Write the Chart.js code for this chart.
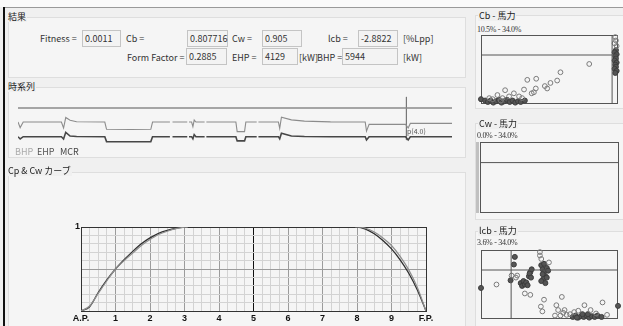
<!DOCTYPE html>
<html><head><meta charset="utf-8">
<script src="https://cdn.jsdelivr.net/npm/chart.js@4.4.0/dist/chart.umd.min.js"></script>
<style>
html,body{margin:0;padding:0;}
body{width:623px;height:326px;overflow:hidden;background:#f0f0f0;position:relative;font-family:"Noto Sans CJK JP","Liberation Sans",sans-serif;font-size:9px;color:#333;}
.grp{position:absolute;border:1px solid #dedede;background:#f5f5f5;box-sizing:border-box;}
.ttl{position:absolute;font-size:9px;line-height:10px;background:#f0f0f0;padding:0 1px;color:#222;white-space:nowrap;}
.lbl{position:absolute;font-size:9px;line-height:11px;white-space:nowrap;color:#333;}
.box{position:absolute;border:1px solid #c4c4c4;background:#f3f3f3;font-size:9px;line-height:15px;padding-left:2px;box-sizing:border-box;height:17px;white-space:nowrap;color:#333;}
.rng{position:absolute;font-family:"Liberation Serif",serif;font-size:8px;line-height:8px;white-space:nowrap;color:#333;letter-spacing:-0.3px;}
canvas{position:absolute;}
</style></head>
<body>
<div style="position:absolute;left:0;top:0;width:623px;height:7px;background:#fafafa"></div>
<div style="position:absolute;left:4px;top:7px;width:619px;height:1px;background:#9a9a9a"></div>
<div style="position:absolute;left:3px;top:7px;width:2px;height:319px;background:#111"></div>

<!-- 結果 -->
<div class="grp" style="left:8px;top:17px;width:458px;height:61px"></div>
<div class="ttl" style="left:7px;top:12px">結果</div>
<div class="lbl" style="left:40px;top:33px">Fitness =</div>
<div class="box" style="left:82px;top:30px;width:39px">0.0011</div>
<div class="lbl" style="left:126px;top:33px">Cb =</div>
<div class="box" style="left:187px;top:30px;width:41px">0.807716</div>
<div class="lbl" style="left:232px;top:33px">Cw =</div>
<div class="box" style="left:262px;top:30px;width:40px">0.905</div>
<div class="lbl" style="left:328px;top:33px">lcb =</div>
<div class="box" style="left:358px;top:30px;width:40px">-2.8822</div>
<div class="lbl" style="left:403px;top:33px">[%Lpp]</div>
<div class="lbl" style="left:127px;top:52px">Form Factor =</div>
<div class="box" style="left:186px;top:48px;width:41px">0.2885</div>
<div class="lbl" style="left:232px;top:52px">EHP =</div>
<div class="box" style="left:262px;top:48px;width:36px">4129</div>
<div class="lbl" style="left:299px;top:52px">[kW]</div>
<div class="lbl" style="left:317px;top:52px">BHP =</div>
<div class="box" style="left:342px;top:48px;width:56px">5944</div>
<div class="lbl" style="left:403px;top:52px">[kW]</div>

<!-- 時系列 -->
<div class="grp" style="left:8px;top:87px;width:458px;height:71px"></div>
<div class="ttl" style="left:7px;top:82px">時系列</div>
<canvas id="ts" width="434" height="56" style="left:18px;top:94px"></canvas>
<div class="lbl" style="left:407px;top:127px;font-size:7px;line-height:8px;color:#555">p(4.0)</div>
<div class="lbl" style="left:15px;top:146px;color:#aaa">BHP</div>
<div class="lbl" style="left:37px;top:146px;color:#555">EHP</div>
<div class="lbl" style="left:60px;top:146px;color:#444">MCR</div>

<!-- Cp & Cw -->
<div class="grp" style="left:8px;top:172px;width:458px;height:160px"></div>
<div class="ttl" style="left:7px;top:166px">Cp &amp; Cw カーブ</div>
<canvas id="cp" width="430" height="111" style="left:8px;top:215px"></canvas>

<!-- right panels -->
<div class="grp" style="left:475px;top:15px;width:150px;height:94px"></div>
<div class="ttl" style="left:478px;top:11px">Cb - 馬力</div>
<div class="rng" style="left:477px;top:26px">10.5% - 34.0%</div>
<canvas id="cb" width="147" height="79" style="left:476px;top:30px"></canvas>

<div class="grp" style="left:475px;top:123px;width:150px;height:97px"></div>
<div class="ttl" style="left:478px;top:119px">Cw - 馬力</div>
<div class="rng" style="left:477px;top:132px">0.0% - 34.0%</div>
<div style="position:absolute;left:476px;top:142px;width:3px;height:71px;background:#c0c0c0"></div>
<canvas id="cw" width="147" height="79" style="left:476px;top:138px"></canvas>

<div class="grp" style="left:475px;top:231px;width:150px;height:100px"></div>
<div class="ttl" style="left:478px;top:226px">lcb - 馬力</div>
<div class="rng" style="left:477px;top:239px">3.6% - 34.0%</div>
<canvas id="lcb" width="147" height="79" style="left:476px;top:245px"></canvas>

<script>
// ---- Cp & Cw curve data ----
const aftStations = [0,0.25,0.5,0.75,1,1.25,1.5,1.75,2,2.25,2.5,2.75,3,3.1];
const aftDesign   = [0,0.05,0.22,0.37,0.5,0.61,0.71,0.80,0.87,0.925,0.96,0.985,0.998,1];
const aftTarget   = [0,0.06,0.21,0.36,0.5,0.60,0.69,0.78,0.85,0.91,0.95,0.98,0.997,1];
const foreStations = [7.95,8,8.25,8.5,8.75,9,9.25,9.5,9.75,10];
const foreDesign   = [1,1,0.975,0.92,0.84,0.74,0.61,0.45,0.25,0];
const foreTarget   = [1,1,0.985,0.94,0.87,0.78,0.65,0.49,0.28,0];
const stationLabels = ['A.P.','1','2','3','4','5','6','7','8','9','F.P.'];

// ---- time series data ----
const tsTime = [0,0.5,1.2,10,10.5,11,12,13.5,20,20.4,26,30.6,31,35,35.3,35.6,39,39.2,39.4,40,40.3,40.6,41,43,43.2,43.4,45,49,50.2,50.5,52.2,52.5,55,55.2,55.4,60,60.3,60.7,63,66,72,80,80.3,80.9,89.3,89.9,90.4,100];
const tsBHP = [5500,5100,5500,5500,5070,5820,5620,5520,5500,4980,4960,4980,5500,5500,null,5500,5500,null,5500,5500,5170,5640,5500,5500,null,5500,5500,5500,5500,4810,4810,5500,5500,null,5500,5500,5050,5840,5650,5560,5510,5500,4850,5330,5330,5070,5400,5400];
const tsEHP = [4450,4290,4450,4450,4290,4760,4500,4460,4450,4100,4090,4100,4450,4450,null,4450,4450,null,4450,4450,4300,4600,4450,4450,null,4450,4450,4450,4450,4150,4150,4450,4450,null,4450,4450,4300,4700,4500,4460,4450,4450,4220,4450,4450,4220,4450,4450];
const mcrTime = [0,100];
const tsMCR = [6500,6500];
const markerTime = [89.5,89.5];
const markerRange = [7290,4210];

// ---- scatter data ----
const cbOpen = [[0.06,0.085],[0.085,0.07],[0.12,0.13],[0.157,0.085],[0.176,0.2],[0.205,0.11],[0.24,0.155],[0.278,0.11],[0.314,0.21],[0.338,0.35],[0.37,0.155],[0.386,0.17],[0.4,0.225],[0.403,0.366],[0.466,0.26],[0.483,0.225],[0.507,0.305],[0.556,0.34],[0.58,0.46],[0.79,0.58],[0.98,0.97],[0.985,0.92],[0.975,0.88],[0.99,0.84],[0.145,0.05],[0.3,0.085]];
const cbFilled = [[0.0,0.07],[0.03,0.05],[0.05,0.03],[0.07,0.05],[0.09,0.02],[0.11,0.04],[0.13,0.06],[0.15,0.02],[0.17,0.04],[0.19,0.06],[0.21,0.03],[0.23,0.05],[0.25,0.02],[0.27,0.04],[0.29,0.03],[0.32,0.05],[0.985,0.78],[0.975,0.75],[0.99,0.72],[0.98,0.69],[0.985,0.66],[0.975,0.63],[0.99,0.6],[0.98,0.57],[0.985,0.54],[0.975,0.51],[0.99,0.48],[0.98,0.45]];
const cbLimit = [0.71, 0.957];
const cwOpen = [];
const cwFilled = [];
const cwLimit = [0.71, null];
const lcbOpen = [[0.113,0.5],[0.223,0.63],[0.264,0.63],[0.255,0.6],[0.32,0.37],[0.36,0.35],[0.43,0.97],[0.43,0.92],[0.44,0.87],[0.496,0.82],[0.46,0.28],[0.437,0.18],[0.448,0.11],[0.59,0.32],[0.55,0.2],[0.563,0.13],[0.54,0.05],[0.61,0.13],[0.625,0.06],[0.755,0.2],[0.71,0.12],[0.8,0.13],[0.887,0.24],[0.92,0.06],[0.58,0.05],[0.6,0.09],[0.68,0.1],[0.84,0.08],[0.65,0.07]];
const lcbFilled = [[0.0,0.45],[0.216,0.56],[0.24,0.79],[0.247,0.9],[0.29,0.52],[0.3,0.48],[0.31,0.55],[0.32,0.5],[0.33,0.53],[0.34,0.49],[0.35,0.62],[0.36,0.68],[0.37,0.72],[0.355,0.66],[0.365,0.6],[0.44,0.78],[0.45,0.72],[0.46,0.68],[0.47,0.62],[0.455,0.58],[0.44,0.55],[0.48,0.74],[0.49,0.7],[0.46,0.8],[0.47,0.52],[0.45,0.65],[0.48,0.6],[0.67,0.03],[0.69,0.05],[0.71,0.02],[0.73,0.04],[0.75,0.03],[0.77,0.05],[0.79,0.02],[0.81,0.04],[0.83,0.03],[0.85,0.05],[0.78,0.07],[0.74,0.07],[0.7,0.02],[0.88,0.03],[1.0,0.19]];
const lcbLimit = [0.71, 0.22];

function pts(xs, ys){ return xs.map((x,i)=>({x:x, y:ys[i]})); }
const noPlug = {legend:{display:false}, tooltip:{enabled:false}};

// time series
new Chart(document.getElementById('ts'), {
  type:'line',
  data:{datasets:[
    {data:pts(mcrTime,tsMCR), borderColor:'#8a8a8a', borderWidth:1.4, pointRadius:0},
    {data:pts(tsTime,tsBHP), borderColor:'#8c8c8c', borderWidth:1.1, pointRadius:0},
    {data:pts(tsTime,tsEHP), borderColor:'#474747', borderWidth:1.6, pointRadius:0},
    {data:pts(markerTime,markerRange), borderColor:'#777', borderWidth:1, pointRadius:0}
  ]},
  options:{responsive:false, animation:false, spanGaps:false, plugins:noPlug, layout:{padding:0},
    scales:{x:{type:'linear', min:0, max:100, display:false}, y:{min:3500, max:7500, display:false}}}
});

// Cp & Cw
function curve(aS, aV, fS, fV){ return pts(aS,aV).concat([{x:5,y:null}], pts(fS,fV)); }
const near = (a,b)=>Math.abs(a-b)<1e-6;
new Chart(document.getElementById('cp'), {
  type:'line',
  data:{datasets:[
    {data:curve(aftStations,aftTarget,foreStations,foreTarget), borderColor:'#8e8e8e', borderWidth:1.2, pointRadius:0, cubicInterpolationMode:'monotone'},
    {data:curve(aftStations,aftDesign,foreStations,foreDesign), borderColor:'#2e2e2e', borderWidth:1.3, pointRadius:0, cubicInterpolationMode:'monotone'}
  ]},
  options:{responsive:false, animation:false, spanGaps:false, plugins:noPlug,
    layout:{padding:{left:0, right:12, top:12, bottom:0}},
    scales:{
      x:{type:'linear', min:0, max:10,
        afterFit(s){ s.height = 15; },
        border:{display:true, color:'#333', width:1},
        grid:{drawTicks:false, color(c){ const v=c.tick.value; if(near(v,5)) return '#111'; if(near(v,0)||near(v,10)) return '#333'; if(near(v,Math.round(v))) return '#9c9c9c'; return '#d3d3d3'; }},
        ticks:{stepSize:0.25, autoSkip:false, maxRotation:0, maxTicksLimit:100, padding:2, color:'#111',
          font:{family:'Liberation Sans', size:9, weight:'bold'},
          callback(v){ return near(v,Math.round(v)) ? stationLabels[Math.round(v)] : ''; }}
      },
      y:{min:0, max:1,
        afterFit(s){ s.width = 73; },
        border:{display:true, color:'#333', width:1},
        grid:{drawTicks:false, color(c){ const v=c.tick.value; if(near(v,0)||near(v,1)) return '#333'; if(near(v,0.5)) return '#9c9c9c'; return '#d3d3d3'; }},
        ticks:{stepSize:0.1, autoSkip:false, maxTicksLimit:100, padding:1, color:'#111',
          font:{family:'Liberation Sans', size:9, weight:'bold'},
          callback(v){ return near(v,1) ? '1' : ''; }}
      }
    }}
});

// scatter panels
const frame = {id:'frame', beforeDatasetsDraw(ch){ const a=ch.chartArea, c=ch.ctx; c.save(); c.strokeStyle='#555'; c.lineWidth=1; c.strokeRect(Math.round(a.left)+0.5, Math.round(a.top)+0.5, Math.round(a.right-a.left)-1, Math.round(a.bottom-a.top)-1); c.restore(); }};
function scatterChart(id, open, filled, lim){
  const ds = [];
  ds.push({type:'line', data:[{x:0,y:lim[0]},{x:1,y:lim[0]}], borderColor:'#555', borderWidth:1, pointRadius:0});
  if(lim[1]!=null) ds.push({type:'line', data:[{x:lim[1],y:0},{x:lim[1],y:1}], borderColor:'#555', borderWidth:1, pointRadius:0});
  ds.push({data:open.map(p=>({x:p[0],y:p[1]})), pointRadius:2.4, borderColor:'#7a7a7a', backgroundColor:'rgba(0,0,0,0)', borderWidth:1, clip:false});
  ds.push({data:filled.map(p=>({x:p[0],y:p[1]})), pointRadius:2.5, borderColor:'#3c3c3c', backgroundColor:'#555', borderWidth:1, clip:false});
  new Chart(document.getElementById(id), {
    type:'scatter', data:{datasets:ds},
    options:{responsive:false, animation:false, plugins:noPlug, layout:{padding:4},
      scales:{x:{type:'linear', min:0, max:1, display:false}, y:{min:0, max:1, display:false}}},
    plugins:[frame]
  });
}
scatterChart('cb', cbOpen, cbFilled, cbLimit);
scatterChart('cw', cwOpen, cwFilled, cwLimit);
scatterChart('lcb', lcbOpen, lcbFilled, lcbLimit);
</script>
</body></html>
